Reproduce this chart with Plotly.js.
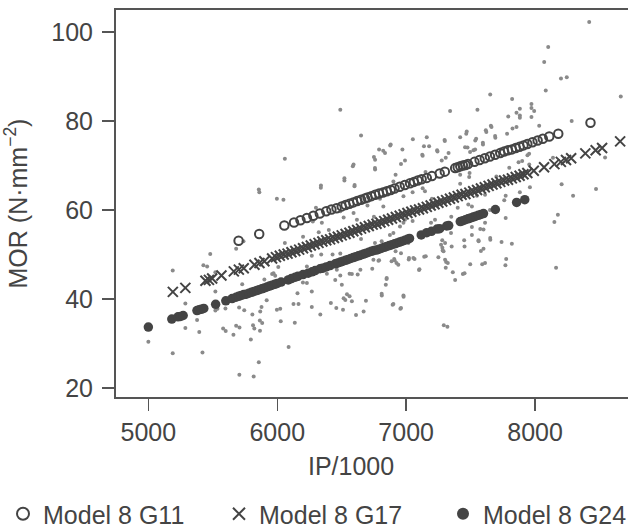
<!DOCTYPE html>
<html>
<head>
<meta charset="utf-8">
<script src="https://cdn.plot.ly/plotly-3.0.1.min.js"></script>
<style>html,body{margin:0;padding:0;background:#fff;}#chart{width:628px;height:532px;}</style>
</head>
<body>
<div id="chart"></div>
<script>
// Observed samples: [IP/1000, MOR]
const samples = [
[5000,30.4],[5189,46.4],[5189,27.8],[5287,39.0],[5287,33.5],[5378,35.3],[5395,32.6],[5420,28.0],[5427,47.6],[5456,47.3],
[5480,50.1],[5520,46.0],[5520,41.7],[5536,37.8],[5520,37.4],[5580,33.4],[5600,32.8],[5598,37.9],[5660,32.0],[5681,51.3],
[5681,34.0],[5707,33.6],[5706,23.0],[5744,37.5],[5704,38.1],[5728,43.3],[5738,53.0],[5807,36.5],[5812,34.1],[5822,33.4],
[5817,22.6],[5795,30.9],[5857,64.6],[5857,25.8],[5865,35.2],[5883,34.6],[5866,32.9],[5868,37.2],[5878,38.2],[5900,44.4],
[5918,39.7],[5960,45.6],[5971,45.8],[5984,45.2],[6008,47.2],[5997,62.5],[6048,62.3],[6059,71.5],[6059,52.6],[5997,37.6],
[6023,37.8],[6027,35.0],[6088,29.2],[6136,34.7],[6126,38.9],[6165,38.9],[6157,41.3],[6199,43.7],[6230,43.6],[6268,41.7],
[6268,38.2],[6334,36.5],[6230,47.3],[6268,49.7],[6341,50.0],[6276,57.4],[6346,57.1],[6322,55.0],[6339,65.5],[6385,45.7],
[6429,50.0],[6489,50.2],[6450,44.3],[6462,46.6],[6489,45.3],[6501,43.2],[6515,40.2],[6528,39.8],[6561,45.7],[6579,45.6],
[6624,45.5],[6645,46.6],[6416,39.1],[6458,38.0],[6510,37.6],[6561,40.6],[6579,39.5],[6541,41.1],[6611,36.4],[6670,37.2],
[6688,39.6],[6489,82.5],[6650,76.7],[6592,70.2],[6521,67.1],[6600,65.6],[6489,59.7],[6515,58.3],[6592,59.3],[6618,57.8],
[6737,46.8],[6785,48.6],[6811,40.8],[6848,44.5],[6895,38.7],[6910,48.7],[6925,48.1],[6955,37.8],[6980,40.5],[7020,48.9],
[7065,49.0],[7100,46.5],[7140,49.5],[7250,49.4],[7283,50.9],[7280,53.2],[7292,34.1],[7320,33.8],[7310,48.3],[7362,46.0],
[7440,45.6],[7450,53.2],[7497,47.8],[7500,57.7],[7562,53.0],[7580,50.8],[7575,55.7],[7590,47.8],[7653,53.3],[7740,52.8],
[7770,47.6],[7776,49.0],[7820,52.4],[8150,57.3],[8177,58.9],[8163,47.0],[8206,65.8],[8295,63.2],[8473,64.7],
[6758,52.6],[6810,53.0],[6874,54.4],[6901,54.8],[7017,52.6],[6979,57.1],[6991,57.8],[6952,56.3],[6746,48.8],[6790,48.7],
[6918,50.7],[6960,50.3],[6887,48.5],[6907,49.0],[6939,47.7],[7022,49.2],[7056,49.2],[7152,49.6],[7103,46.7],[6849,44.7],
[6842,43.2],[6810,41.2],[6979,40.8],[6901,38.9],[6960,38.0],[7193,57.1],[7224,57.8],[7290,50.7],[7281,51.5],[7302,52.6],
[7271,52.2],[7302,48.8],[7323,48.1],[7307,47.0],[7380,44.3],[7353,51.8],[7348,54.8],[7453,45.8],[7453,51.8],[7510,56.2],
[7510,54.4],[7561,53.2],[7600,51.3],[7612,48.1],[7612,57.1],[7600,55.6],[7652,53.7],
[7652,85.9],[7341,82.2],[7553,82.5],[7657,78.9],[7618,77.9],[7690,76.6],[7470,77.6],[7419,76.3],[7543,76.0],[7457,74.1],
[7496,73.0],[7522,73.4],[7595,75.1],[7535,73.6],[7052,75.9],[7160,76.3],[7298,75.7],[7178,74.3],[7240,73.4],[7329,72.8],
[6971,73.6],[6880,74.7],[6822,73.3],[6790,73.6],[6750,71.9],[6991,71.1],[6960,70.3],[6758,69.4],[7128,72.2],[7276,71.1],
[7307,71.7],[6918,67.9],[6901,66.4],[7419,67.9],[7492,68.3],[7489,67.4],[7128,64.9],[7146,64.2],[6979,63.1],[6797,62.5],
[6823,60.8],[7419,65.9],[7482,61.2],[7510,60.8],[7549,63.2],[7612,63.4],
[8420,102.2],[8102,96.6],[8071,93.2],[8201,89.5],[8246,89.8],[8083,86.8],[8665,85.5],[7822,84.9],[7972,83.8],[7972,82.9],
[7993,82.2],[7972,80.9],[7882,82.7],[7856,81.8],[7882,81.2],[7882,80.7],[7792,81.0],[7856,78.6],[7825,78.3],[7783,77.1],
[8032,78.9],[8284,80.0],[7954,72.6],[8543,71.8],[7882,64.0],[7960,65.1],[7772,63.2],[7761,62.2],[7772,58.2],[7872,70.7],
[7900,71.0],[6586,69.8],[6759,69.1],[6759,71.3],[6836,72.8],[6876,74.5],[7125,72.4],[7138,74.3],[7243,73.1],[7300,75.5],
[7466,77.1],[7476,74.0],[7536,75.6],[7596,74.7],[7622,77.5],[7662,78.6],[7692,76.2],[7732,73.6],[7941,72.3],[7955,70.2],
[8139,71.7],[5861,64.0],[6338,65.0],[6521,66.6],[6599,65.3],[6300,60.5],[6700,61.0],[7050,64.0],[7200,62.5],[6400,55.5],
[6650,53.5],[7350,58.5],[7700,67.5],[7800,69.5],[6200,54.0],[7050,57.5],[7400,60.5],[7650,60.0],[6750,58.5],[7150,68.5]
];

// Model 8 G11 (open circles)
const g11X = [5700,5860,6055,6130,6180,6230,6280,6330,6380,6420,6460,6500,6530,6560,6590,6620,6650,6680,6700,6730,6760,6790,6820,6850,6880,6910,6950,6990,7030,7060,7090,7120,7160,7200,7260,7300,7380,7400,7420,7440,7460,7480,7530,7570,7610,7650,7690,7730,7760,7790,7820,7850,7880,7910,7940,7980,8020,8060,8110,8180,8430];
const g11Y = [53.1,54.6,56.5,57.2,57.7,58.2,58.7,59.2,59.7,60.1,60.4,60.8,61.1,61.4,61.7,62.0,62.3,62.6,62.8,63.1,63.4,63.7,63.9,64.2,64.5,64.8,65.2,65.6,66.0,66.3,66.6,66.9,67.2,67.6,68.2,68.6,69.4,69.6,69.8,70.0,70.1,70.3,70.8,71.2,71.6,72.0,72.4,72.8,73.1,73.4,73.6,73.9,74.2,74.5,74.8,75.2,75.6,76.0,76.5,77.1,79.6];

// Model 8 G17 (crosses)
const g17X = [5190,5287,5443,5470,5495,5567,5663,5702,5740,5823,5862,5900,5960,5990,6020,6050,6080,6110,6140,6170,6200,6230,6260,6290,6320,6350,6380,6410,6440,6470,6500,6530,6560,6590,6620,6650,6680,6710,6740,6770,6800,6830,6860,6890,6920,6950,6980,7010,7040,7070,7100,7130,7160,7190,7220,7250,7280,7310,7340,7370,7400,7430,7460,7490,7520,7550,7580,7610,7640,7670,7700,7730,7760,7790,7820,7850,7880,7910,7940,7990,8070,8150,8200,8240,8280,8390,8470,8520,8660];
const g17Y = [41.6,42.5,44.1,44.3,44.6,45.3,46.2,46.6,46.9,47.7,48.1,48.5,49.1,49.4,49.7,50.0,50.2,50.5,50.8,51.1,51.4,51.7,52.0,52.3,52.6,52.9,53.2,53.4,53.7,54.0,54.3,54.6,54.9,55.2,55.5,55.8,56.1,56.4,56.7,56.9,57.2,57.5,57.8,58.1,58.4,58.7,59.0,59.3,59.6,59.9,60.1,60.4,60.7,61.0,61.3,61.6,61.9,62.2,62.5,62.8,63.1,63.4,63.6,63.9,64.2,64.5,64.8,65.1,65.4,65.7,66.0,66.3,66.6,66.8,67.1,67.4,67.7,68.0,68.3,68.8,69.6,70.3,70.8,71.2,71.6,72.7,73.4,73.9,75.4];

// Model 8 G24 (filled circles)
const g24X = [5000,5182,5230,5250,5270,5377,5395,5410,5430,5522,5601,5650,5680,5700,5720,5740,5760,5780,5800,5820,5840,5860,5880,5900,5920,5940,5960,5980,6000,6030,6085,6110,6140,6160,6200,6240,6270,6294,6332,6350,6380,6410,6450,6470,6490,6510,6530,6550,6570,6590,6610,6630,6650,6670,6690,6710,6730,6750,6770,6790,6810,6830,6850,6870,6890,6910,6930,6950,6970,6990,7010,7026,7117,7160,7196,7240,7260,7314,7330,7420,7440,7460,7480,7500,7520,7540,7560,7580,7600,7692,7857,7920];
const g24Y = [33.7,35.5,36.0,36.1,36.3,37.4,37.6,37.7,37.9,38.8,39.6,40.1,40.4,40.6,40.8,41.0,41.1,41.3,41.5,41.7,41.9,42.1,42.3,42.5,42.7,42.9,43.1,43.3,43.5,43.8,44.3,44.6,44.9,45.1,45.5,45.8,46.1,46.4,46.8,46.9,47.2,47.5,47.9,48.1,48.3,48.5,48.7,48.9,49.1,49.3,49.5,49.7,49.9,50.1,50.3,50.5,50.7,50.9,51.0,51.2,51.4,51.6,51.8,52.0,52.2,52.4,52.6,52.8,53.0,53.2,53.4,53.6,54.4,54.9,55.2,55.7,55.8,56.4,56.5,57.4,57.6,57.8,58.0,58.2,58.4,58.6,58.8,59.0,59.2,60.1,61.7,62.3];

const xTicks = [5000,6000,7000,8000];
const yTicks = [20,40,60,80,100];
const seriesNames = ['Model 8 G11','Model 8 G17','Model 8 G24'];
const xTitle = 'IP/1000';
const yTitle = 'MOR (N·mm<sup>−2</sup>)';

const dark = '#444444';
const FONT = 'Liberation Sans, Arial, Helvetica, sans-serif';
const FS = 25;

const traces = [
  {x: samples.map(p=>p[0]), y: samples.map(p=>p[1]), type:'scatter', mode:'markers',
   marker:{color:'#8a8a8a', size:4}, showlegend:false, hoverinfo:'skip'},
  {x: g11X, y: g11Y, type:'scatter', mode:'markers', name: seriesNames[0], legend:'legend',
   marker:{symbol:'circle-open', size:8.5, color:dark, line:{width:2, color:dark}}},
  {x: g17X, y: g17Y, type:'scatter', mode:'markers', name: seriesNames[1], legend:'legend2',
   marker:{symbol:'x-thin-open', size:10, color:dark, line:{width:2, color:dark}}},
  {x: g24X, y: g24Y, type:'scatter', mode:'markers', name: seriesNames[2], legend:'legend3',
   marker:{symbol:'circle', size:9.5, color:dark}}
];

const plotL = 116, plotW = 512, plotT = 10, plotH = 387;
const legBase = {orientation:'h', xanchor:'left', y:(plotT+plotH-514)/plotH, yanchor:'middle',
  font:{size:FS, color:dark}, bgcolor:'rgba(0,0,0,0)', borderwidth:0, itemsizing:'constant'};

const layout = {
  width:628, height:532,
  margin:{l:plotL, r:628-plotL-plotW, t:plotT, b:532-plotT-plotH, pad:0, autoexpand:false},
  paper_bgcolor:'#fff', plot_bgcolor:'#fff',
  font:{family:FONT, size:FS, color:dark},
  xaxis:{range:[4749,8721], tickvals:xTicks, ticktext:xTicks.map(String),
    ticks:'outside', ticklen:12, tickwidth:1.5, tickcolor:'#555',
    showline:true, linecolor:'#555', linewidth:2, mirror:true,
    showgrid:false, zeroline:false, tickfont:{size:FS, color:dark}},
  yaxis:{range:[18.0,104.9], tickvals:yTicks, ticktext:yTicks.map(String),
    ticks:'outside', ticklen:12, tickwidth:1.5, tickcolor:'#555',
    showline:true, linecolor:'#555', linewidth:2, ticklabelstandoff:4,
    showgrid:false, zeroline:false, tickfont:{size:FS, color:dark},
    title:{text:yTitle, font:{size:FS, color:dark}, standoff:22}},
  annotations:[{text:xTitle, xref:'paper', yref:'paper', x:(351-plotL)/plotW, y:(plotT+plotH-466)/plotH,
    xanchor:'center', yanchor:'middle', showarrow:false, font:{size:FS, color:dark}}],
  showlegend:true,
  legend: Object.assign({}, legBase, {x:(3-plotL)/plotW}),
  legend2: Object.assign({}, legBase, {x:(219-plotL)/plotW}),
  legend3: Object.assign({}, legBase, {x:(443-plotL)/plotW})
};

Plotly.newPlot('chart', traces, layout, {displayModeBar:false, staticPlot:true});
</script>
</body>
</html>
